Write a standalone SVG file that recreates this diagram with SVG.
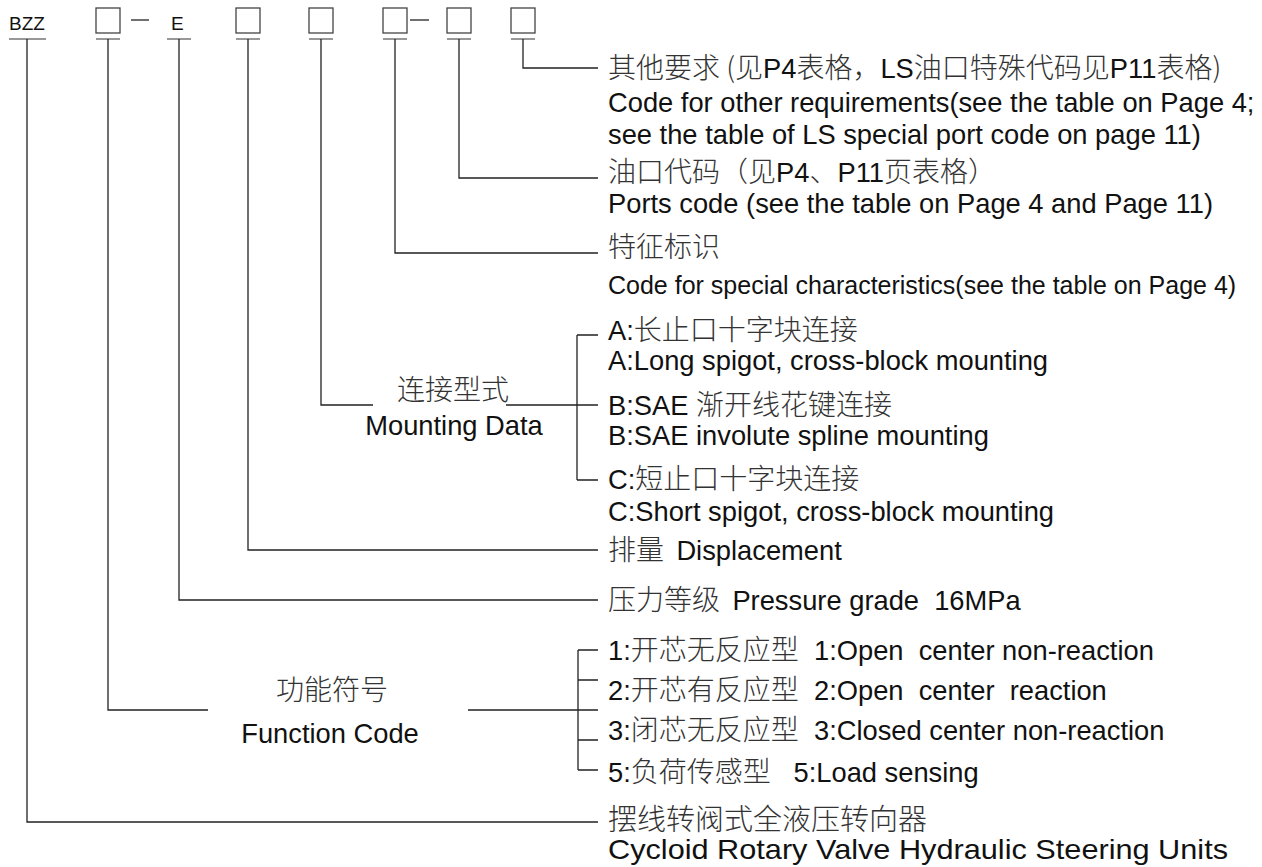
<svg xmlns="http://www.w3.org/2000/svg" width="1262" height="867" viewBox="0 0 1262 867">
<style>
.t{font-family:"Liberation Sans",Arial,"Noto Sans CJK SC",sans-serif;font-size:27.3px;fill:#111}
.c{font-family:"Noto Sans CJK SC","Liberation Sans",sans-serif;font-size:28px;font-weight:300;fill:#333}
.k{font-family:"Liberation Sans",Arial,sans-serif;font-size:19px;fill:#111}
.ln{stroke:#222;stroke-width:1.3;fill:none}
.ul{stroke:#777;stroke-width:1.6;fill:none}
.bx{stroke:#444;stroke-width:1.3;fill:#fff}
</style>
<rect width="1262" height="867" fill="#fff"/>
<g id="code">
<text class="k" x="9" y="30">BZZ</text>
<rect class="bx" x="96" y="8" width="24" height="25"/>
<line class="ln" x1="131" y1="20" x2="149" y2="20"/>
<text class="k" x="171" y="30">E</text>
<rect class="bx" x="236" y="8" width="24" height="25"/>
<rect class="bx" x="309" y="8" width="24" height="25"/>
<rect class="bx" x="383" y="8" width="24" height="25"/>
<line class="ln" x1="410" y1="20" x2="429" y2="20"/>
<rect class="bx" x="447" y="8" width="24" height="25"/>
<rect class="bx" x="511" y="8" width="24" height="25"/>
<path class="ul" d="M9 39H46M96 39H120M167 39H191M236 39H260M309 39H333M383 39H407M447 39H471M511 39H535"/>
</g>
<g id="connectors">
<path class="ln" d="M523 39V68H598"/>
<path class="ln" d="M459 39V178H598"/>
<path class="ln" d="M395 39V253H598"/>
<path class="ln" d="M321 39V405H373M506 405H598M577 335V480M577 335H598M577 480H598"/>
<path class="ln" d="M248 39V550H598"/>
<path class="ln" d="M179 39V600H598"/>
<path class="ln" d="M108 39V710H208M468 710H598M578 650V770M578 650H598M578 680H598M578 740H598M578 770H598"/>
<path class="ln" d="M27 39V822H598"/>
</g>
<g id="other">
<text class="c" x="608" y="78">其他要求 (见<tspan class="t">P4</tspan>表格，<tspan class="t">LS</tspan>油口特殊代码见<tspan class="t">P11</tspan>表格)</text>
<text class="t" x="608" y="112">Code for other requirements(see the table on Page 4;</text>
<text class="t" x="608" y="144">see the table of LS special port code on page 11)</text>
</g>
<g id="ports">
<text class="c" x="608" y="182">油口代码（见<tspan class="t">P4</tspan>、<tspan class="t">P11</tspan>页表格）</text>
<text class="t" x="608" y="213">Ports code (see the table on Page 4 and Page 11)</text>
</g>
<g id="special">
<text class="c" x="608" y="257">特征标识</text>
<text class="t" x="608" y="294" style="font-size:25px">Code for special characteristics(see the table on Page 4)</text>
</g>
<g id="mounting">
<text class="c" x="453" y="400" text-anchor="middle">连接型式</text>
<text class="t" x="454" y="435" text-anchor="middle">Mounting Data</text>
</g>
<g id="mount-a">
<text class="t" x="608" y="340">A:<tspan class="c">长止口十字块连接</tspan></text>
<text class="t" x="608" y="370">A:Long spigot, cross-block mounting</text>
</g>
<g id="mount-b">
<text class="t" x="608" y="415">B:SAE <tspan class="c">渐开线花键连接</tspan></text>
<text class="t" x="608" y="445">B:SAE involute spline mounting</text>
</g>
<g id="mount-c">
<text class="t" x="608" y="489">C:<tspan class="c">短止口十字块连接</tspan></text>
<text class="t" x="608" y="521">C:Short spigot, cross-block mounting</text>
</g>
<g id="displacement">
<text class="c" x="608" y="560" xml:space="preserve">排量  <tspan class="t">Displacement</tspan></text>
</g>
<g id="pressure">
<text class="c" x="608" y="610" xml:space="preserve">压力等级  <tspan class="t">Pressure grade  16MPa</tspan></text>
</g>
<g id="function">
<text class="c" x="332" y="700" text-anchor="middle">功能符号</text>
<text class="t" x="330" y="743" text-anchor="middle">Function Code</text>
</g>
<g id="f1"><text class="t" x="608" y="660" xml:space="preserve">1:<tspan class="c">开芯无反应型</tspan>  1:Open  center non-reaction</text></g>
<g id="f2"><text class="t" x="608" y="700" xml:space="preserve">2:<tspan class="c">开芯有反应型</tspan>  2:Open  center  reaction</text></g>
<g id="f3"><text class="t" x="608" y="740" xml:space="preserve">3:<tspan class="c">闭芯无反应型</tspan>  3:Closed center non-reaction</text></g>
<g id="f5"><text class="t" x="608" y="782" xml:space="preserve">5:<tspan class="c">负荷传感型</tspan>   5:Load sensing</text></g>
<g id="unit">
<text class="c" x="608" y="830" style="font-size:29px">摆线转阀式全液压转向器</text>
<text class="t" x="608" y="859" style="font-size:28px" textLength="620" lengthAdjust="spacingAndGlyphs">Cycloid Rotary Valve Hydraulic Steering Units</text>
</g>
</svg>
